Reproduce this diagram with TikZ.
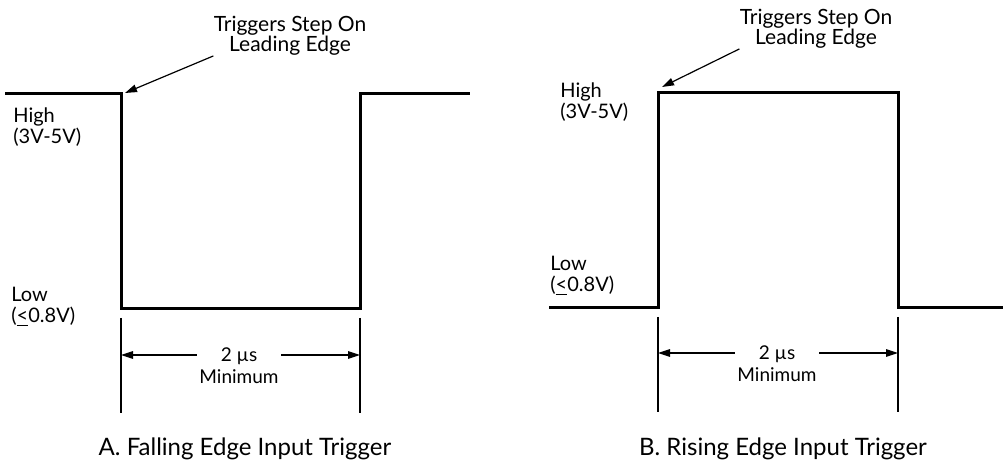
\documentclass[tikz,border=0pt]{standalone}
\usepackage{fontspec}
\setmainfont{Lato}
\usetikzlibrary{arrows.meta,positioning}

\begin{document}
\begin{tikzpicture}[
  x=0.5pt, y=-0.5pt,
  wave/.style={line width=1.5pt, line join=miter},
  ext/.style={line width=0.6pt},
  arr/.style={-{Triangle[length=6pt,width=3.8pt]}, line width=0.6pt},
  lbl/.style={anchor=north west, align=left, inner sep=0pt,
              font=\fontsize{10}{10.5}\selectfont},
  note/.style={anchor=north, align=center, inner sep=0pt,
               font=\fontsize{10.5}{10}\selectfont},
  dim/.style={minimum width=42pt, inner sep=0pt, text height=7pt, text depth=0pt,
              font=\fontsize{9.5}{10}\selectfont},
  captext/.style={anchor=base, inner sep=0pt, font=\fontsize{12}{14}\selectfont}
]
\useasboundingbox (0,0) rectangle (1003,464);

% A. falling edge
\coordinate (fa) at (121,94);
\coordinate (fb) at (360,94);
\draw[wave] (5,94) -- (fa) -- (121,309) -- (360,309) -- (fb) -- (470,94);
\node[note] (noteA) at (290,16) {Triggers Step On\\Leading Edge};
\coordinate (tipA) at (125,93);
\draw[arr] (noteA.south west) -- (tipA);
\node[lbl] (highA) at (13,107) {High\\(3V-5V)};
\node[lbl] (lowA) at (11,287) {Low\\(\underline{<}0.8V)};

\coordinate (extA1) at (121,318);
\coordinate (extA2) at (360,318);
\draw[ext] (extA1) -- ++(0,95);
\draw[ext] (extA2) -- ++(0,95);
\node[dim] (dimA) at (239,355) {2 µs};
\node[below=3.5pt of dimA, inner sep=0pt, font=\fontsize{9.5}{10}\selectfont] (minA) {Minimum};
\coordinate (dLA) at (121,355);
\coordinate (dRA) at (360,355);
\draw[arr] (dimA) -- (dLA);
\draw[arr] (dimA) -- (dRA);
\node[captext] (capA) at (245,456) {A. Falling Edge Input Trigger};

% B. rising edge
\coordinate (ra) at (658,93);
\coordinate (rb) at (898,93);
\draw[wave] (549,308) -- (658,308) -- (ra) -- (rb) -- (898,308) -- (1003,308);
\node[note] (noteB) at (816,9) {Triggers Step On\\Leading Edge};
\coordinate (tipB) at (662,87);
\draw[arr] (noteB.south west) -- (tipB);
\node[lbl] (highB) at (560,82) {High\\(3V-5V)};
\node[lbl] (lowB) at (550,256) {Low\\(\underline{<}0.8V)};

\coordinate (extB1) at (658,317);
\coordinate (extB2) at (898,317);
\draw[ext] (extB1) -- ++(0,95);
\draw[ext] (extB2) -- ++(0,95);
\node[dim] (dimB) at (777,353) {2 µs};
\node[below=3.5pt of dimB, inner sep=0pt, font=\fontsize{9.5}{10}\selectfont] (minB) {Minimum};
\coordinate (dLB) at (658,353);
\coordinate (dRB) at (898,353);
\draw[arr] (dimB) -- (dLB);
\draw[arr] (dimB) -- (dRB);
\node[captext] (capB) at (783,456) {B. Rising Edge Input Trigger};
\end{tikzpicture}
\end{document}
